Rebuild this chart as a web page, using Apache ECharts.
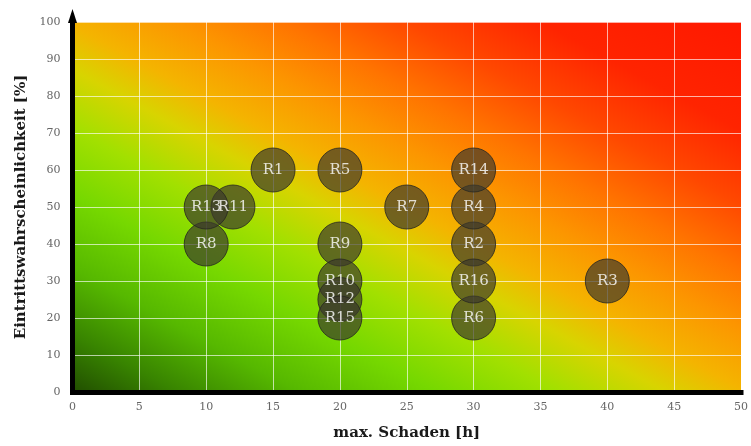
<!DOCTYPE html>
<html>
<head>
<meta charset="utf-8">
<script src="https://cdn.jsdelivr.net/npm/echarts@6/dist/echarts.min.js"></script>
<style>
  html, body { margin: 0; padding: 0; background: #ffffff; }
  #chart { width: 751px; height: 446px; }
</style>
</head>
<body>
<div id="chart"></div>
<script>
// Risk register: maximum damage (hours) vs. probability of occurrence (%)
var riskNames   = ['R1', 'R2', 'R3', 'R4', 'R5', 'R6', 'R7', 'R8', 'R9', 'R10', 'R11', 'R12', 'R13', 'R14', 'R15', 'R16'];
var maxDamage   = [15, 30, 40, 30, 20, 30, 25, 10, 20, 20, 12, 20, 10, 30, 20, 30];
var probability = [60, 40, 30, 50, 60, 20, 50, 40, 40, 30, 50, 25, 50, 60, 20, 30];

var xTicks = { min: 0, max: 50, interval: 5 };
var yTicks = { min: 0, max: 100, interval: 10 };

var points = riskNames.map(function (n, i) {
  return { name: n, value: [maxDamage[i], probability[i]] };
});

var serif = 'DejaVu Serif';

var gridBox = { left: 72.5, right: 3.5, top: 22, bottom: 54 };
var chartW = 751, chartH = 446;

// Heat-map style backdrop: low risk (bottom-left) green, high risk (top-right) red.
// The gradient vector is perpendicular to the top-left / bottom-right diagonal of the
// plot, so those two corners share the mid-scale colour.
var plotW = chartW - gridBox.left - gridBox.right;
var plotH = chartH - gridBox.top - gridBox.bottom;
var k = (plotH * plotH) / (plotW * plotW + plotH * plotH);
var riskGradient = new echarts.graphic.LinearGradient(0.5 - k, 1.5 - k, 0.5 + k, k - 0.5, [
  { offset: 0.00, color: '#204c00' },
  { offset: 0.08, color: '#388400' },
  { offset: 0.17, color: '#56b800' },
  { offset: 0.27, color: '#76d800' },
  { offset: 0.36, color: '#a2e000' },
  { offset: 0.44, color: '#d8d400' },
  { offset: 0.50, color: '#f4b400' },
  { offset: 0.58, color: '#fc9600' },
  { offset: 0.66, color: '#ff7400' },
  { offset: 0.75, color: '#ff4800' },
  { offset: 0.85, color: '#ff2400' },
  { offset: 1.00, color: '#ff1800' }
]);

var chart = echarts.init(document.getElementById('chart'), null, { renderer: 'canvas' });

chart.setOption({
  animation: false,
  backgroundColor: '#ffffff',
  grid: {
    left: gridBox.left, right: gridBox.right, top: gridBox.top, bottom: gridBox.bottom,
    show: true,
    backgroundColor: riskGradient,
    borderWidth: 0
  },
  xAxis: {
    type: 'value',
    min: xTicks.min, max: xTicks.max, interval: xTicks.interval,
    name: 'max. Schaden [h]',
    nameLocation: 'middle',
    nameGap: 34,
    nameTextStyle: { fontFamily: serif, fontWeight: 'bold', fontSize: 15, color: '#1a1a1a' },
    axisLine: {
      show: true, onZero: false,
      lineStyle: { color: '#000', width: 5, cap: 'square' }
    },
    axisTick: { show: false },
    axisLabel: { fontFamily: serif, fontSize: 11, color: '#666', margin: 10 },
    splitLine: { show: true, lineStyle: { color: 'rgba(255,255,255,0.65)', width: 1 } }
  },
  yAxis: {
    type: 'value',
    min: yTicks.min, max: yTicks.max, interval: yTicks.interval,
    name: 'Eintrittswahrscheinlichkeit [%]',
    nameLocation: 'middle',
    nameGap: 42,
    nameTextStyle: { fontFamily: serif, fontWeight: 'bold', fontSize: 15, color: '#1a1a1a' },
    axisLine: {
      show: true, onZero: false,
      symbol: ['none', 'triangle'], symbolSize: [9, 14], symbolOffset: [0, 6],
      lineStyle: { color: '#000', width: 5, cap: 'square' }
    },
    axisTick: { show: false },
    axisLabel: { fontFamily: serif, fontSize: 11, color: '#666', margin: 12 },
    splitLine: { show: true, lineStyle: { color: 'rgba(255,255,255,0.65)', width: 1 } }
  },
  series: [{
    type: 'scatter',
    data: points,
    symbol: 'circle',
    symbolSize: 44,
    itemStyle: {
      color: 'rgba(58,56,44,0.86)',
      borderColor: '#262620',
      borderWidth: 1
    },
    label: {
      show: true,
      position: 'inside',
      formatter: '{b}',
      fontFamily: serif,
      fontSize: 15,
      color: '#ffffff'
    },
    emphasis: { disabled: true }
  }]
});
</script>
</body>
</html>
